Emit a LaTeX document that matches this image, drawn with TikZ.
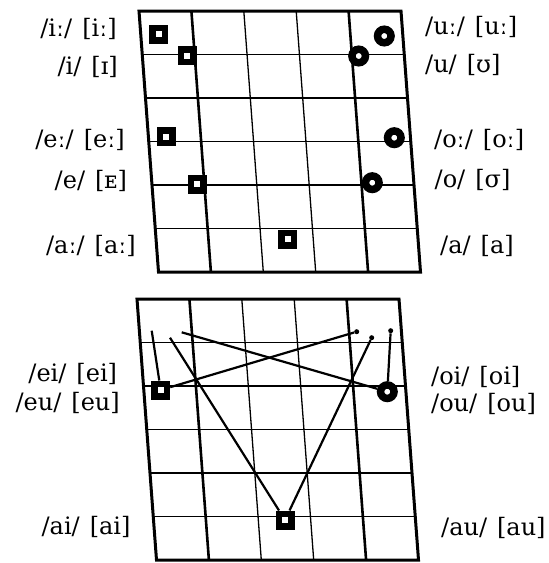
\documentclass[tikz,border=0pt]{standalone}
\usepackage{fontspec}
\setmainfont{DejaVu Serif}
\usepackage{tikz}
\usetikzlibrary{calc}
\newcommand{\vpair}[2]{/#1/\hspace{10pt}[#2]}

\begin{document}
\begin{tikzpicture}[x=1pt,y=-1pt,
  frame/.style={line width=3pt,line join=miter},
  thickln/.style={line width=2.6pt},
  thinln/.style={line width=1.3pt},
  sqmark/.style={rectangle,draw,fill=white,line width=6.5pt,minimum size=12.5pt,inner sep=0pt},
  rdmark/.style={circle,draw,fill=white,line width=7.5pt,minimum size=13.5pt,inner sep=0pt},
  glide/.style={line width=2.2pt},
  enddot/.style={circle,fill,inner sep=0pt,minimum size=5pt},
  lbl/.style={font=\fontsize{24}{27}\selectfont,inner sep=0pt}]
\useasboundingbox (0,0) rectangle (549,563);
\foreach \c/\ox/\oy in {top/139/11,bot/137/299} {
   \coordinate (\c-tl) at (\ox,\oy);
   \coordinate (\c-tr) at (\ox+262,\oy);
   \coordinate (\c-bl) at (\ox+19.5,\oy+261);
   \coordinate (\c-br) at (\ox+281.5,\oy+261);
   \foreach \i/\w in {1/thickln,2/thinln,3/thinln,4/thickln} {
      \draw[\w] ($(\c-tl)!\i/5!(\c-tr)$) -- ($(\c-bl)!\i/5!(\c-br)$);
   }
   \foreach \j/\w in {1/thinln,2/thickln,3/thinln,4/thickln,5/thinln} {
      \draw[\w] ($(\c-tl)!\j/6!(\c-bl)$) -- ($(\c-tr)!\j/6!(\c-br)$);
   }
   \draw[frame] (\c-tl) -- (\c-tr) -- (\c-br) -- (\c-bl) -- cycle;
}
% monophthongs
\node[sqmark](ii) at (158.7,34.3) {};
\node[sqmark](i) at (187.3,55.7) {};
\node[sqmark](ee) at (166,136.7) {};
\node[sqmark](e) at (197.3,184.3) {};
\node[sqmark](aa) at (287.7,239.3) {};
\node[rdmark](uu) at (384.3,36) {};
\node[rdmark](u) at (358.7,56) {};
\node[rdmark](oo) at (394.3,137.7) {};
\node[rdmark](o) at (372.3,182.7) {};
\node[lbl,anchor=east](l-ii) at (117,28.5) {\vpair{iː}{iː}};
\node[lbl,anchor=east](l-i) at (118,67) {\vpair{i}{ɪ}};
\node[lbl,anchor=east](l-ee) at (125,140) {\vpair{eː}{eː}};
\node[lbl,anchor=east](l-e) at (127.3,181) {\vpair{e}{ᴇ}};
\node[lbl,anchor=east](l-aa) at (136,246) {\vpair{aː}{aː}};
\node[lbl,anchor=west](l-uu) at (425,27) {\vpair{uː}{uː}};
\node[lbl,anchor=west](l-u) at (425,65) {\vpair{u}{ʊ}};
\node[lbl,anchor=west](l-oo) at (434,140) {\vpair{oː}{oː}};
\node[lbl,anchor=west](l-o) at (434.5,180) {\vpair{o}{σ}};
\node[lbl,anchor=west](l-a) at (440,246) {\vpair{a}{a}};
% diphthongs
\node[sqmark](eg) at (160.7,390) {};
\node[rdmark](og) at (387.3,391.7) {};
\node[sqmark](ag) at (285,520) {};
\coordinate (eiEnd) at (151.7,330.7);
\coordinate (oiEnd) at (181.7,332.3);
\coordinate (aiEnd) at (170,337.7);
\node[enddot](euEnd) at (356.7,331.7) {};
\node[enddot](ouEnd) at (390.7,330.7) {};
\node[enddot](auEnd) at (371.7,337.7) {};
\draw[glide] (eg) -- (eiEnd);
\draw[glide] (eg) -- (euEnd);
\draw[glide] (og) -- (oiEnd);
\draw[glide] (og) -- (ouEnd);
\draw[glide] (ag) -- (aiEnd);
\draw[glide] (ag) -- (auEnd);
\node[lbl,anchor=east](l-ei) at (117.3,374) {\vpair{ei}{ei}};
\node[lbl,anchor=east](l-eu) at (120,403) {\vpair{eu}{eu}};
\node[lbl,anchor=east](l-ai) at (130.7,527) {\vpair{ai}{ai}};
\node[lbl,anchor=west](l-oi) at (431,377) {\vpair{oi}{oi}};
\node[lbl,anchor=west](l-ou) at (431,404) {\vpair{ou}{ou}};
\node[lbl,anchor=west](l-au) at (441,528) {\vpair{au}{au}};
\end{tikzpicture}
\end{document}
